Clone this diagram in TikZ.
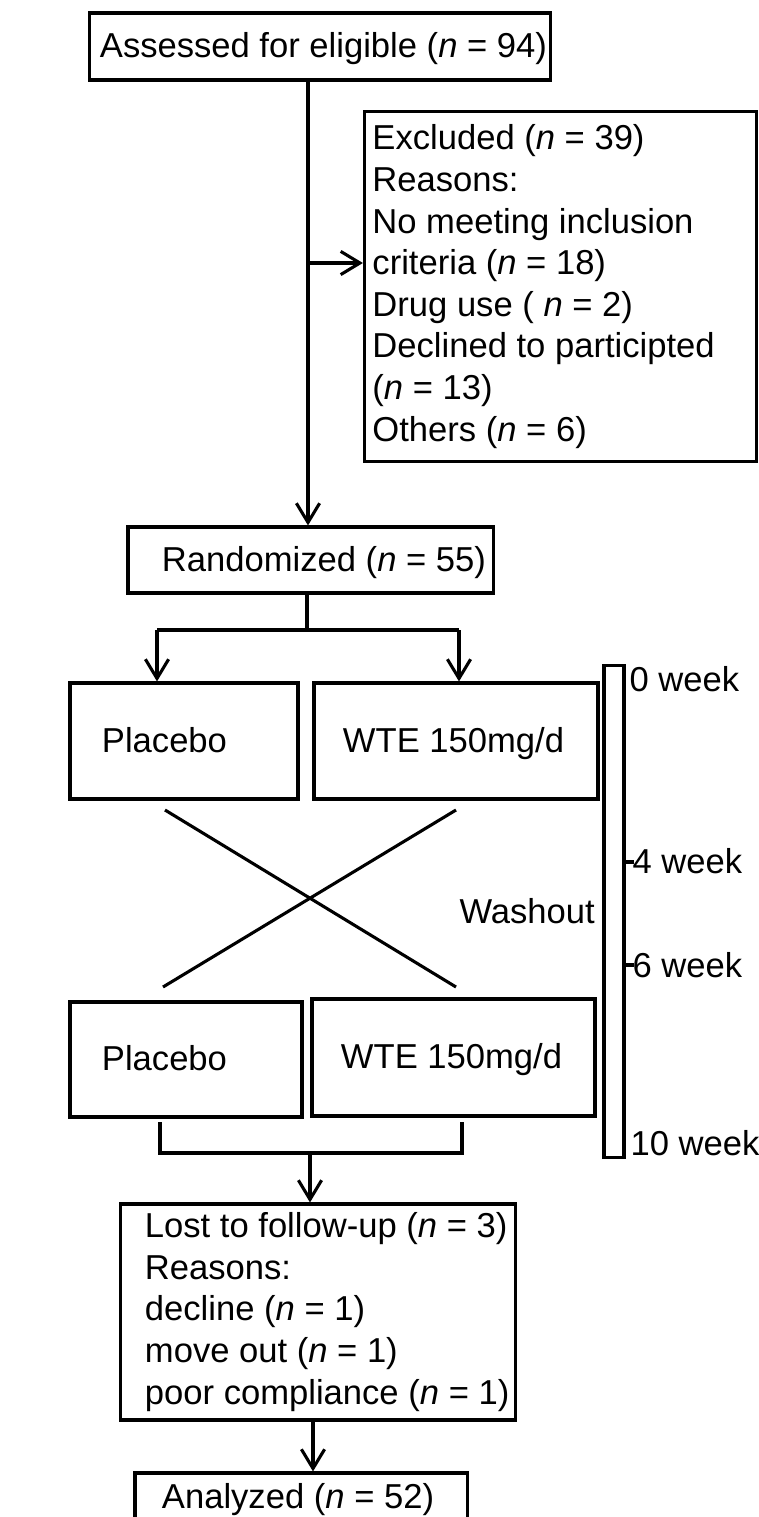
\documentclass[tikz,border=0pt]{standalone}
\usepackage{fontspec}
\setmainfont{Liberation Sans}
\usepackage{tikz}
\usetikzlibrary{arrows.meta}

\newcommand{\nval}[1]{(\textit{n} = #1)}
\newcommand{\linebox}[3]{\makebox[#1][l]{\hspace*{#2}#3}}

\begin{document}
\begin{tikzpicture}[x=0.025cm, y=-0.025cm, line width=2.2pt,
  >={Straight Barb[length=0.48cm,width=0.58cm]},
  flowbox/.style={draw, inner ysep=0pt, align=flush left, font=\fontsize{24.6}{29.6}\selectfont},
  onebox/.style={flowbox, inner xsep=0pt, text height=0.72cm, text depth=0.17cm},
  weeklabel/.style={font=\fontsize{24.6}{29.6}\selectfont, inner sep=0pt}]
\useasboundingbox (0,0) rectangle (758,1517);

% boxes
\node[onebox, minimum height=1.675cm] (assess) at (320,46.5) {\linebox{11.5cm}{0.25cm}{Assessed for eligible \nval{94}}};
\node[flowbox, inner xsep=0.2cm, text width=9.4cm, minimum height=8.725cm] (excl) at (560.5,286.5)
  {Excluded \nval{39}\\Reasons:\\No meeting inclusion\\criteria \nval{18}\\Drug use ( \textit{n} = 2)\\Declined to participted\\\nval{13}\\Others \nval{6}};
\node[onebox, minimum height=1.65cm] (rand) at (310.5,560) {\linebox{9.125cm}{0.85cm}{Randomized \nval{55}}};

\node[onebox, minimum height=2.9cm] (plA) at (184,741) {\linebox{5.7cm}{0.8cm}{Placebo}};
\node[onebox, minimum height=2.9cm] (wteA) at (456,741) {\linebox{7.1cm}{0.725cm}{WTE 150mg/d}};
\node[onebox, minimum height=2.875cm] (plB) at (186,1059.5) {\linebox{5.8cm}{0.8cm}{Placebo}};
\node[onebox, minimum height=2.925cm] (wteB) at (453.5,1057.5) {\linebox{7.075cm}{0.725cm}{WTE 150mg/d}};

\node[flowbox, inner xsep=0pt, text width=9.85cm, minimum height=5.4cm,
  execute at begin node={\leftskip=0.6cm\relax}] (lost) at (318,1312)
  {Lost to follow-up \nval{3}\\Reasons:\\decline \nval{1}\\move out \nval{1}\\poor compliance \nval{1}};
\node[onebox, minimum height=1.2cm] (anal) at (301,1497) {\linebox{8.3cm}{0.675cm}{Analyzed \nval{52}}};

% time bar
\node[draw, minimum width=0.5cm, minimum height=12.275cm, inner sep=0pt] (bar) at (614,911.5) {};
\draw (bar.east |- 0,862) -- ++(8,0);
\draw (bar.east |- 0,965) -- ++(8,0);
\node[weeklabel, anchor=base west] (w0) at (628,691) {0 week};
\node[weeklabel, anchor=base west] (w4) at (631,873) {4 week};
\node[weeklabel, anchor=base west] (w6) at (631,977) {6 week};
\node[weeklabel, anchor=base west] (w10) at (629,1155) {10 week};
\node[weeklabel, anchor=base west] (washout) at (458,923) {Washout};

% connectors
\coordinate (split) at (308,263);
\draw[->] (assess.south -| split) -- (rand.north -| split);
\draw[->] (split) -- (excl.west |- split);

\coordinate (fork) at (307,630);
\coordinate (forkL) at (157,630);
\coordinate (forkR) at (459,630);
\draw (rand.south -| fork) -- (fork);
\draw (forkL) -- (forkR);
\draw[->] (forkL) -- (plA.north -| forkL);
\draw[->] (forkR) -- (wteA.north -| forkR);

\coordinate (crossTL) at (165,810);
\coordinate (crossTR) at (456,810);
\coordinate (crossBL) at (163,987);
\coordinate (crossBR) at (456,987);
\draw (crossTL) -- (crossBR);
\draw (crossTR) -- (crossBL);

\coordinate (joinL) at (160,1122);
\coordinate (joinR) at (462,1122);
\coordinate (join) at (310,1153);
\draw (joinL) |- (join) -| (joinR);
\draw[->] (join) -- (lost.north -| join);

\coordinate (down) at (313,1420);
\draw[->] (lost.south -| down) -- (anal.north -| down);
\end{tikzpicture}
\end{document}
